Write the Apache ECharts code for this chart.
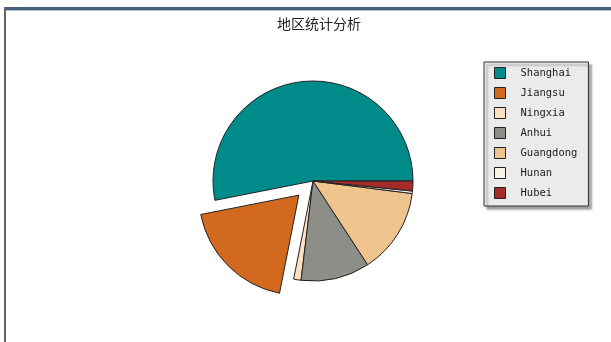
<!DOCTYPE html>
<html>
<head>
<meta charset="utf-8">
<script src="https://cdn.jsdelivr.net/npm/echarts@6/dist/echarts.min.js"></script>
<style>html,body{margin:0;padding:0;background:#fff}#c{width:611px;height:342px}</style>
</head>
<body>
<div id="c"></div>
<script>
var titleText = '地区统计分析';
var categories = ['Shanghai', 'Jiangsu', 'Ningxia', 'Anhui', 'Guangdong', 'Hunan', 'Hubei'];
var values = [53.1, 18.8, 1.2, 11.1, 13.8, 0.4, 1.6];
var colors = ['#008b8b', '#d2691e', '#fde0c2', '#8e8e88', '#efc48f', '#f7f3e6', '#a52a2a'];
var explodedIndex = 1;

var chart = echarts.init(document.getElementById('c'), null, {renderer: 'canvas'});
var data = categories.map(function (n, i) {
  return {name: n, value: values[i], selected: i === explodedIndex, itemStyle: {color: colors[i]}};
});
chart.setOption({
  animation: false,
  backgroundColor: '#ffffff',
  title: {
    text: titleText,
    left: 314, top: 12, textAlign: 'center',
    textStyle: {fontFamily: 'Noto Sans CJK SC', fontSize: 14, fontWeight: 'normal', color: '#222'}
  },
  graphic: [
    {type: 'rect', shape: {x: 4, y: 7, width: 607, height: 3}, style: {fill: '#4a5f7e'}, silent: true},
    {type: 'rect', shape: {x: 4, y: 10, width: 607, height: 1}, style: {fill: '#b4c0d0'}, silent: true},
    {type: 'rect', shape: {x: 4, y: 7, width: 2, height: 335}, style: {fill: '#666'}, silent: true}
  ],
  legend: {
    orient: 'vertical',
    left: 484, top: 62,
    padding: [5, 11, 7, 10],
    itemWidth: 11, itemHeight: 11, itemGap: 8,
    icon: 'rect',
    backgroundColor: '#ebebeb',
    borderColor: '#333', borderWidth: 1,
    shadowColor: 'rgba(80,80,80,0.55)', shadowBlur: 2, shadowOffsetX: 3, shadowOffsetY: 3,
    itemStyle: {borderColor: '#222', borderWidth: 1},
    textStyle: {fontFamily: 'DejaVu Sans Mono', fontSize: 10.5, color: '#1a1a1a', padding: [0, 0, 0, 10]},
    selectedMode: false,
    data: categories
  },
  series: [{
    type: 'pie',
    center: [313, 181],
    radius: [0, 100],
    startAngle: 0,
    clockwise: false,
    selectedMode: 'single',
    selectedOffset: 20,
    avoidLabelOverlap: false,
    label: {show: false},
    labelLine: {show: false},
    emphasis: {disabled: true, scale: false},
    select: {itemStyle: {borderColor: '#222', borderWidth: 1}},
    itemStyle: {borderColor: '#222', borderWidth: 1},
    data: data
  }]
});
</script>
</body>
</html>
